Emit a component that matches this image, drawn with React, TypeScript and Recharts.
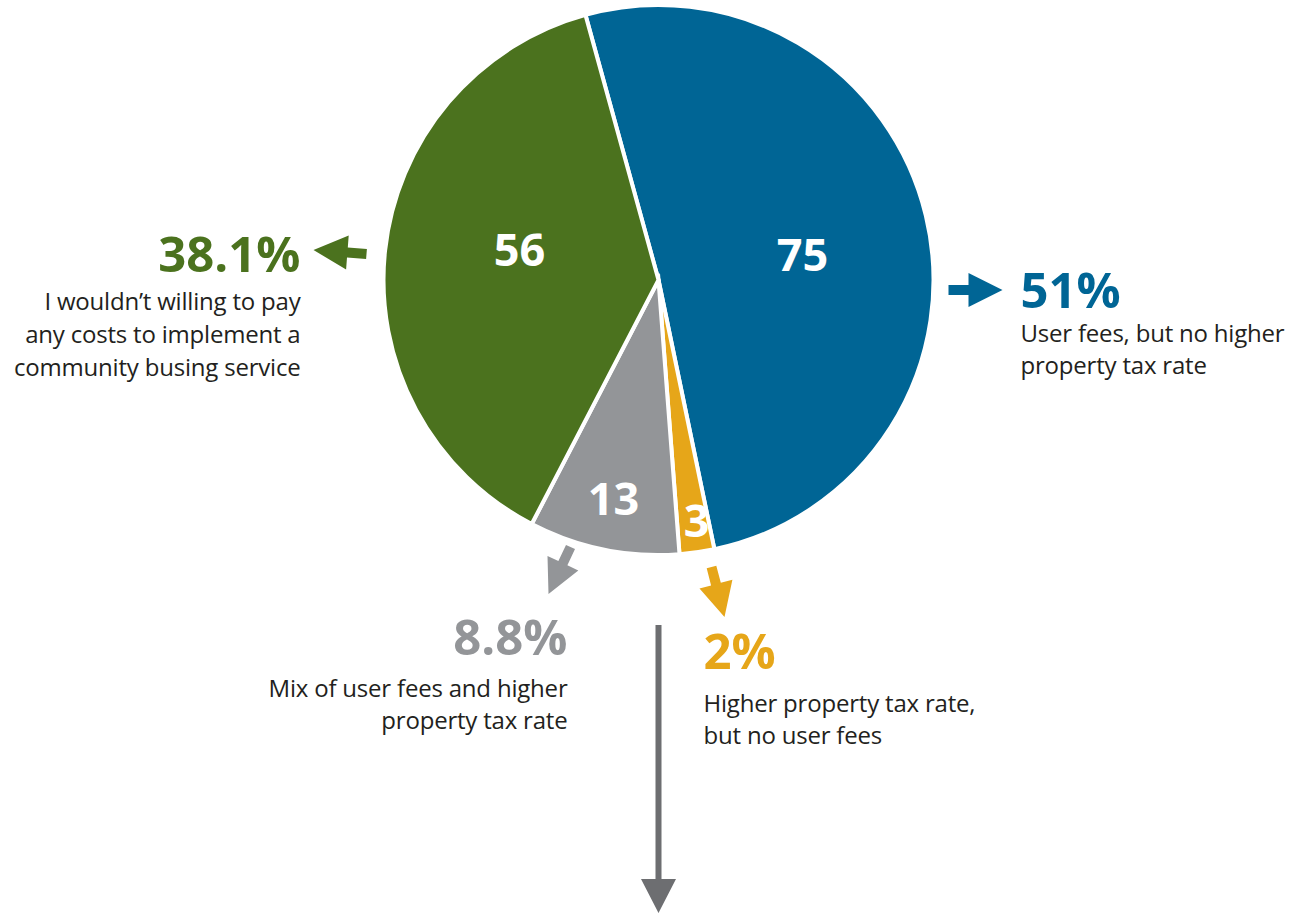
import React from "react";
import { PieChart, Pie, Cell } from "recharts";

// ---- data ----
const categories = [
  "User fees, but no higher property tax rate",
  "Higher property tax rate, but no user fees",
  "Mix of user fees and higher property tax rate",
  "I wouldn’t willing to pay any costs to implement a community busing service",
];
const counts = [75, 3, 13, 56];
const labelLines = [
  ["User fees, but no higher", "property tax rate"],
  ["Higher property tax rate,", "but no user fees"],
  ["Mix of user fees and higher", "property tax rate"],
  ["I wouldn’t willing to pay", "any costs to implement a", "community busing service"],
];

const data = categories.map((name, i) => ({ name, value: counts[i] }));

// ---- styles / layout ----
const COLORS = ["#006595", "#e6a619", "#939598", "#4b721e"];
const TEXT = "#231f20";
const FONT = "'Open Sans', 'Noto Sans', sans-serif";
const CX = 658.5;
const CY = 280;
const R = 275;

type Lay = {
  inner: [number, number];
  tail: [number, number];
  tip: [number, number];
  anchor: "start" | "end";
  pct: [number, number];
  lines: number[];
};

// offsets relative to pie centre
const layouts: Lay[] = [
  { inner: [144, -25], tail: [290, 10], tip: [344, 10], anchor: "start", pct: [362, 28], lines: [62, 94] },
  { inner: [38, 241], tail: [53, 287], tip: [66, 337], anchor: "start", pct: [45, 389], lines: [432, 464] },
  { inner: [-45, 219], tail: [-88, 267], tip: [-110, 314], anchor: "end", pct: [-91, 375], lines: [417, 449] },
  { inner: [-139, -30], tail: [-292, -26], tip: [-345, -30], anchor: "end", pct: [-358, -8], lines: [30, 63, 96] },
];

function arrowPoints(
  tx: number, ty: number, px: number, py: number,
  shaft: number, headLen: number, headW: number
) {
  const dx = px - tx;
  const dy = py - ty;
  const len = Math.sqrt(dx * dx + dy * dy);
  const ux = dx / len;
  const uy = dy / len;
  const nx = -uy;
  const ny = ux;
  const bx = px - ux * headLen;
  const by = py - uy * headLen;
  const s = shaft / 2;
  const h = headW / 2;
  const pts = [
    [tx + nx * s, ty + ny * s],
    [bx + nx * s, by + ny * s],
    [bx + nx * h, by + ny * h],
    [px, py],
    [bx - nx * h, by - ny * h],
    [bx - nx * s, by - ny * s],
    [tx - nx * s, ty - ny * s],
  ];
  return pts.map((p) => `${p[0].toFixed(1)},${p[1].toFixed(1)}`).join(" ");
}

function fmtPct(p: number) {
  const v = Math.round(p * 1000) / 10;
  return (Number.isInteger(v) ? v.toFixed(0) : v.toFixed(1)) + "%";
}

const renderLabel = (props: any) => {
  const { cx, cy, index, value, percent } = props;
  const L = layouts[index];
  const color = COLORS[index];
  return (
    <g>
      <text
        x={cx + L.inner[0]}
        y={cy + L.inner[1] + 16}
        textAnchor="middle"
        fill="#ffffff"
        fontFamily={FONT}
        fontWeight={700}
        fontSize={45}
      >
        {value}
      </text>
      <polygon
        points={arrowPoints(cx + L.tail[0], cy + L.tail[1], cx + L.tip[0], cy + L.tip[1], 10, 34, 34)}
        fill={color}
      />
      <text
        x={cx + L.pct[0]}
        y={cy + L.pct[1]}
        textAnchor={L.anchor}
        fill={color}
        fontFamily={FONT}
        fontWeight={700}
        fontSize={49}
      >
        {fmtPct(percent)}
      </text>
      {labelLines[index].map((ln, k) => (
        <text
          key={k}
          x={cx + L.pct[0]}
          y={cy + L.lines[k]}
          textAnchor={L.anchor}
          fill={TEXT}
          fontFamily={FONT}
          fontSize={24}
          letterSpacing={-0.2}
        >
          {ln}
        </text>
      ))}
    </g>
  );
};

const BigArrow = () => (
  <polygon
    points={arrowPoints(CX, CY + 345, CX, CY + 633, 6, 34, 35)}
    fill="#6d6e71"
  />
);

export default function App() {
  return (
    <div style={{ position: "absolute", left: 0, top: 0, width: 1299, height: 915, background: "#fff" }}>
      <PieChart width={1299} height={915} margin={{ top: 0, right: 0, bottom: 0, left: 0 }}>
        <Pie
          data={data}
          dataKey="value"
          nameKey="name"
          cx={CX}
          cy={CY}
          outerRadius={R}
          innerRadius={0}
          startAngle={105.4}
          endAngle={-254.6}
          stroke="#ffffff"
          strokeWidth={4}
          label={renderLabel}
          labelLine={false}
          isAnimationActive={false}
        >
          {data.map((d, i) => (
            <Cell key={d.name} fill={COLORS[i]} />
          ))}
        </Pie>
        <BigArrow />
      </PieChart>
    </div>
  );
}
